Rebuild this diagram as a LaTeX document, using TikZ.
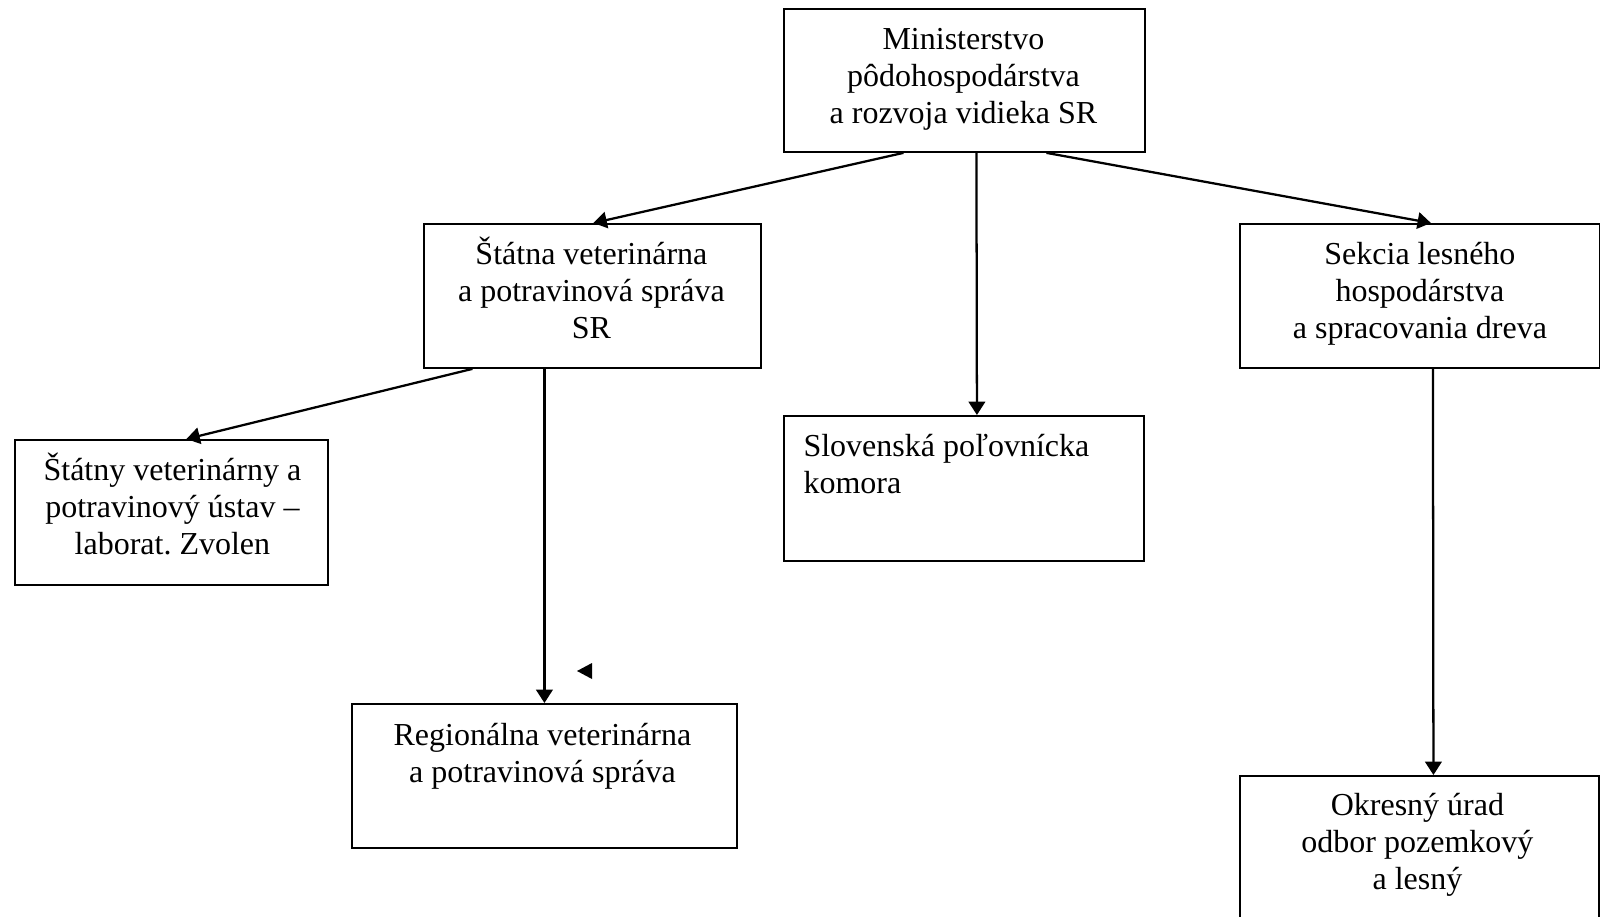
\documentclass[tikz,border=0pt]{standalone}
\usepackage{fontspec}
\setmainfont{Liberation Serif}
\usetikzlibrary{arrows.meta}
\frenchspacing

\newdimen\px
\px=0.375pt

\tikzset{
  box/.style={draw, line width=0.7pt, rectangle, anchor=north west, inner sep=0pt},
  boxtext/.style={anchor=base, align=center, inner sep=0pt},
  arr/.style={line width=0.85pt, -{Triangle[length=5pt,width=6.2pt]}}
}

\begin{document}
\begin{tikzpicture}[x=0.375pt,y=-0.375pt,
    font=\fontsize{12pt}{13.7pt}\selectfont]
  \useasboundingbox (0,0) rectangle (1600,917);

  % boxes
  \node[box, minimum width=361\px, minimum height=143\px] (min) at (783,8) {};
  \node[box, minimum width=337\px, minimum height=144\px] (svps) at (423,223) {};
  \node[box, minimum width=360\px, minimum height=144\px] (slh) at (1239,223) {};
  \node[box, minimum width=313\px, minimum height=145\px] (svpu) at (14,439) {};
  \node[box, minimum width=360\px, minimum height=145\px] (spk) at (783,415) {};
  \node[box, minimum width=385\px, minimum height=144\px] (rvps) at (351,703) {};
  \node[box, minimum width=359\px, minimum height=170\px] (okr) at (1239,775) {};

  % texts (base = last line)
  \node[boxtext] (min-t) at ([shift={(-1,115)}]min.north)
    {Ministerstvo\\pôdohospodárstva\\a rozvoja vidieka SR};
  \node[boxtext] (svps-t) at ([shift={(-1,115)}]svps.north)
    {Štátna veterinárna\\a potravinová správa\\SR};
  \node[boxtext] (slh-t) at ([shift={(0,115)}]slh.north)
    {Sekcia lesného\\hospodárstva\\a spracovania dreva};
  \node[boxtext] (svpu-t) at ([shift={(1,115)}]svpu.north)
    {Štátny veterinárny a\\potravinový ústav –\\laborat. Zvolen};
  \node[boxtext, anchor=base west, align=left] (spk-t) at ([shift={(20,78)}]spk.north west)
    {Slovenská poľovnícka\\komora};
  \node[boxtext] (rvps-t) at ([shift={(-2,79)}]rvps.north)
    {Regionálna veterinárna\\a potravinová správa};
  \node[boxtext] (okr-t) at ([shift={(-2,114)}]okr.north)
    {Okresný úrad\\odbor pozemkový\\a lesný};

  % connectors
  \draw[arr] ([shift={(-61,0)}]min.south) -- ([shift={(1,0)}]svps.north);
  \draw[arr] ([shift={(12,0)}]min.south) -- ([shift={(13,0)}]spk.north);
  \draw[arr] ([shift={(82,0)}]min.south) -- ([shift={(11,0)}]slh.north);
  \draw[arr] ([shift={(-120,0)}]svps.south) -- ([shift={(15,0)}]svpu.north);
  \draw[arr] ([shift={(-48,0)}]svps.south) -- (rvps.north);
  \draw[arr] ([shift={(13,0)}]slh.south) -- ([shift={(14,0)}]okr.north);

  % loose arrow tip
  \fill (577,671) -- (592,663) -- (592,679) -- cycle;
\end{tikzpicture}
\end{document}
